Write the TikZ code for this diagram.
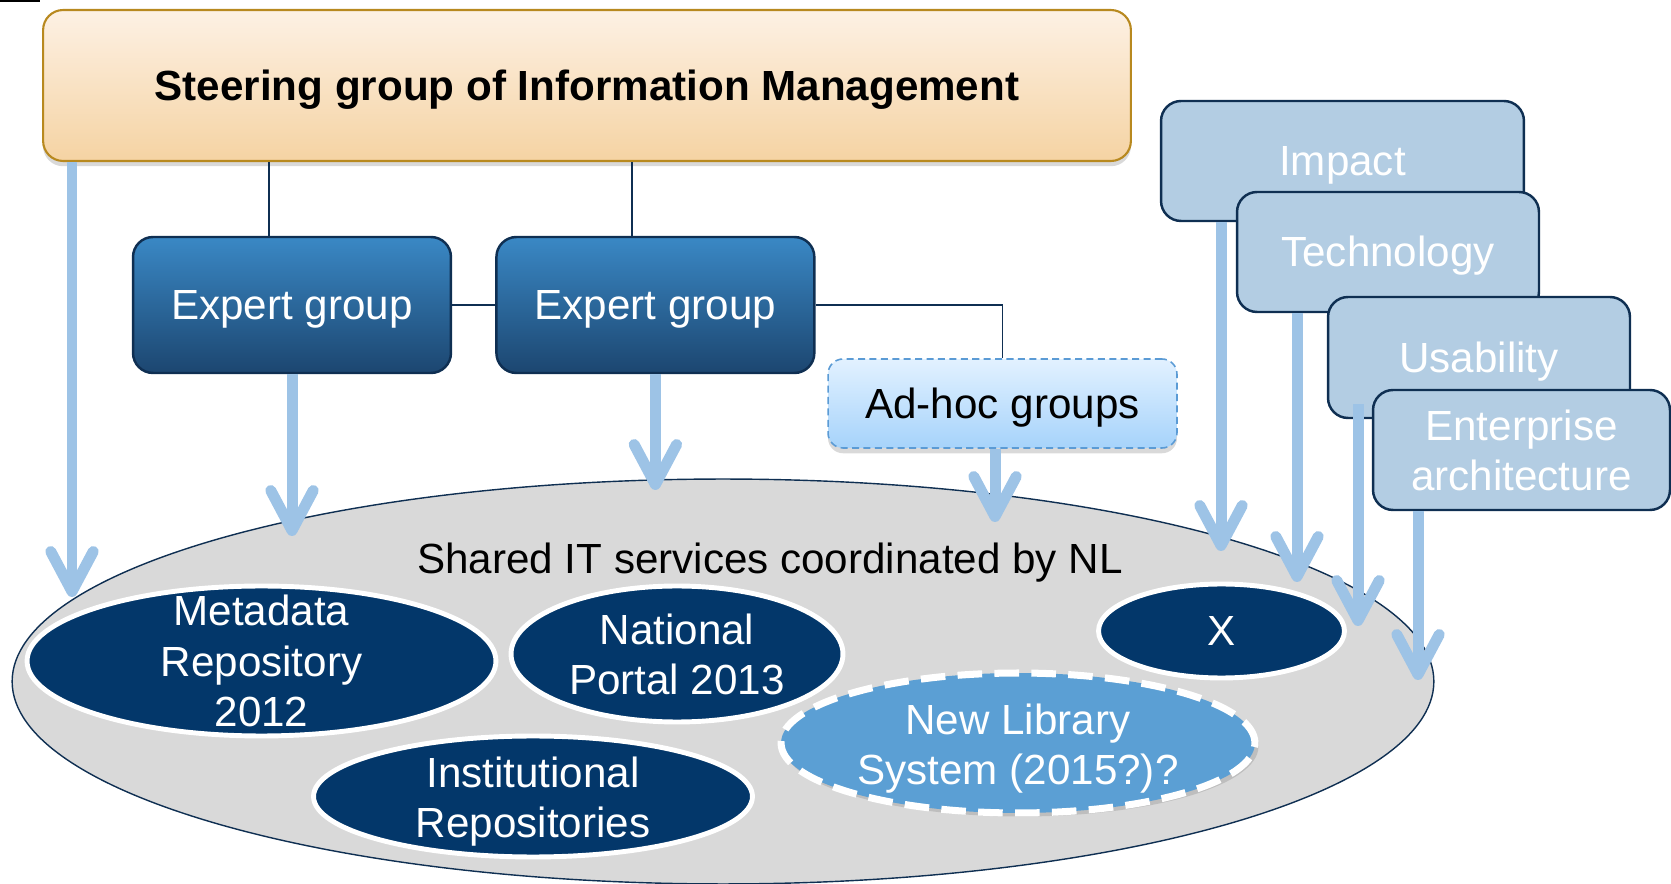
\documentclass[tikz,border=0pt]{standalone}
\usepackage{fontspec}
\setmainfont{Liberation Sans}
\usetikzlibrary{shapes,arrows.meta,positioning,calc,shadows}

\definecolor{steerborder}{HTML}{B8891F}
\definecolor{steertop}{HTML}{FDF1E4}
\definecolor{steerbot}{HTML}{F5D3A3}
\definecolor{experttop}{HTML}{3A88C5}
\definecolor{expertbot}{HTML}{1C4670}
\definecolor{navyline}{HTML}{0F2F52}
\definecolor{adhoctop}{HTML}{E2F1FF}
\definecolor{adhocbot}{HTML}{A6D3FB}
\definecolor{adhocborder}{HTML}{5B9BD5}
\definecolor{themebox}{HTML}{B3CDE3}
\definecolor{flowblue}{HTML}{9DC3E6}
\definecolor{sharedgray}{HTML}{D9D9D9}
\definecolor{servicenavy}{HTML}{03376A}
\definecolor{newlib}{HTML}{5B9FD4}

\newcommand{\labelfont}{\fontsize{24}{28.5}\selectfont}

\tikzstyle{oneline} = [text height=17pt, text depth=0pt]
\tikzstyle{steering} = [rectangle, rounded corners=0.4cm, draw=steerborder, line width=1.2pt, top color=steertop, bottom color=steerbot, minimum width=21.76cm, minimum height=3.02cm, font=\labelfont\bfseries, oneline, drop shadow={shadow xshift=0pt, shadow yshift=-3pt, opacity=0.3}]
\tikzstyle{expert} = [rectangle, rounded corners=0.4cm, draw=navyline, line width=1.4pt, top color=experttop, bottom color=expertbot, text=white, oneline, minimum width=6.36cm, minimum height=2.72cm]
\tikzstyle{adhoc} = [rectangle, rounded corners=0.3cm, draw=adhocborder, line width=0.9pt, dash pattern=on 4pt off 2.5pt, top color=adhoctop, bottom color=adhocbot, oneline, minimum width=6.98cm, minimum height=1.78cm, drop shadow={shadow xshift=0pt, shadow yshift=-3pt, opacity=0.3}]
\tikzstyle{theme} = [rectangle, rounded corners=0.4cm, draw=navyline, line width=1.4pt, fill=themebox, text=white, align=center, minimum height=2.4cm]
\tikzstyle{shared} = [ellipse, draw=navyline, line width=0.8pt, fill=sharedgray, inner sep=0pt]
\tikzstyle{service} = [ellipse, draw=white, line width=2.8pt, fill=servicenavy, inner sep=0pt]
\tikzstyle{newservice} = [ellipse, draw=white, line width=4pt, dash pattern=on 14pt off 7pt, fill=newlib, inner sep=0pt, drop shadow={shadow xshift=2pt, shadow yshift=-2pt, opacity=0.3}]
\tikzstyle{servicetext} = [text=white, align=center]
\tikzstyle{link} = [draw=navyline, line width=1.1pt]
\tikzstyle{flow} = [draw=flowblue, line width=0.22cm, -{Straight Barb[length=0.8cm,width=0.85cm,round]}]

\begin{document}
\begin{tikzpicture}[x=0.02cm, y=-0.02cm, font=\labelfont]
\useasboundingbox (0,0) rectangle (1671,884);

% stray rule, top left
\fill[black] (0,0) rectangle (40,2.5);

% Shared services (big ellipse)
\node[shared, minimum width=28.44cm, minimum height=8.1cm] (sharedit) at (723,681.5) {};
\node[oneline] (sharedtxt) at (770,559) {Shared IT services coordinated by NL};

% Steering group
\node[steering] (steer) at (587,85.5) {Steering group of Information Management};

% Expert groups
\node[expert] (expert1) at (292,305) {Expert group};
\node[expert, right=0.86cm of expert1] (expert2) {Expert group};

% Ad-hoc groups
\node[adhoc] (adhoc) at (1002.5,403.5) {Ad-hoc groups};

% Steering -- expert groups -- ad-hoc
\draw[link] ([xshift=-0.46cm]expert1.north) -- ([xshift=-0.46cm]expert1.north |- steer.south);
\draw[link] ([xshift=-0.46cm]expert2.north) -- ([xshift=-0.46cm]expert2.north |- steer.south);
\draw[link] (expert1) -- (expert2);
\draw[link] (expert2) -| (adhoc);

% Arrow tips inside the shared ellipse
\coordinate (tipsteer) at (72,597);
\coordinate (tipexp1) at (292,536);
\coordinate (tipexp2) at (655,490);
\coordinate (tipadhoc) at (995,522);
\coordinate (tipimpact) at (1221,551);
\coordinate (tiptech) at (1297,582);
\coordinate (tipusab) at (1358,626);
\coordinate (tipent) at (1418,680);

\draw[flow] (steer.south -| tipsteer) -- (tipsteer);
\draw[flow] (expert1.south) -- (expert1.south |- tipexp1);
\draw[flow] (expert2.south) -- (expert2.south |- tipexp2);
\draw[flow] (adhoc.south -| tipadhoc) -- (tipadhoc);

% Theme groups (stacked)
\node[theme, oneline, minimum width=7.26cm] (impact) at (1342.5,161) {Impact};
\draw[flow] (impact.south -| tipimpact) -- (tipimpact);

\node[theme, oneline, minimum width=6.04cm] (tech) at (1388,252) {Technology};
\draw[flow] (tech.south -| tiptech) -- (tiptech);

\node[theme, oneline, minimum width=6.04cm, minimum height=2.42cm] (usab) at (1479,357.5) {Usability};
\draw[flow] ([yshift=0.3cm]usab.south -| tipusab) -- (tipusab);

\node[theme, minimum width=5.94cm] (entarch) at (1521.5,450) {Enterprise\\architecture};
\draw[flow] (entarch.south -| tipent) -- (tipent);

% Services
\node[service, minimum width=9.38cm, minimum height=3.0cm] (metarepo) at (261.5,661) {};
\node[servicetext] (metatxt) at (metarepo) {Metadata\\Repository\\2012};

\node[service, minimum width=6.64cm, minimum height=2.72cm] (portal) at (677,654) {};
\node[servicetext] (portaltxt) at (portal) {National\\Portal 2013};

\node[service, minimum width=8.78cm, minimum height=2.42cm] (instrepo) at (533,796.5) {};
\node[servicetext] (instrepotxt) at ([yshift=-0.1cm]instrepo) {Institutional\\Repositories};

\node[service, minimum width=4.92cm, minimum height=1.88cm] (xservice) at (1221.5,631) {};
\node[servicetext, oneline] (xtxt) at (xservice) {X};

\node[newservice, minimum width=9.48cm, minimum height=2.8cm] (newlibsys) at (1018,743) {};
\node[servicetext] (newlibtxt) at ([yshift=-0.11cm]newlibsys) {New Library\\System (2015?)?};

\end{tikzpicture}
\end{document}
